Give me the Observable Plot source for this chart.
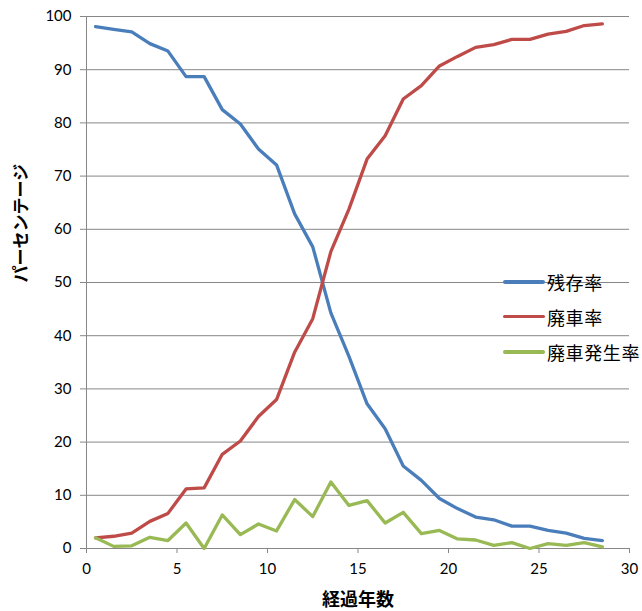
<!DOCTYPE html>
<html><head><meta charset="utf-8">
<script src="https://cdn.jsdelivr.net/npm/d3@7"></script>
<script src="https://cdn.jsdelivr.net/npm/@observablehq/plot@0.6"></script>
<style>
body{margin:0;background:#fff}
#wrap{position:relative;width:642px;height:611px;overflow:hidden}
#legend{position:absolute;left:503px;top:0;font-family:"Noto Sans CJK JP",sans-serif;font-size:18px;color:#000}
.item{position:absolute;left:0;display:flex;align-items:center;white-space:nowrap;height:24px}
.sw{width:42px;height:3.5px;border-radius:2px;margin-right:2px}
</style></head><body><div id="wrap"></div>
<script>
const years = [0.5,1.5,2.5,3.5,4.5,5.5,6.5,7.5,8.5,9.5,10.5,11.5,12.5,13.5,14.5,15.5,16.5,17.5,18.5,19.5,20.5,21.5,22.5,23.5,24.5,25.5,26.5,27.5,28.5];
const survival = [98.1,97.6,97.1,94.9,93.5,88.7,88.7,82.5,79.8,75.1,72.1,62.9,56.7,44.3,36.1,27.2,22.5,15.5,12.8,9.4,7.5,5.9,5.4,4.2,4.2,3.4,2.9,1.9,1.5];
const scrapped = [2.0,2.3,2.9,5.1,6.6,11.2,11.4,17.7,20.2,24.8,28.0,36.9,43.2,55.8,63.8,73.2,77.6,84.5,87.0,90.7,92.5,94.2,94.7,95.7,95.7,96.7,97.2,98.3,98.6];
const scrapRate = [2.0,0.4,0.5,2.1,1.5,4.8,0.0,6.3,2.6,4.6,3.3,9.2,6.0,12.5,8.1,9.0,4.8,6.8,2.8,3.4,1.8,1.6,0.6,1.1,0.0,0.9,0.6,1.1,0.3];
const seriesNames = ["残存率","廃車率","廃車発生率"];
const seriesColors = ["#4A7EBB","#BE4B48","#98B954"];
const xTicks = [0,5,10,15,20,25,30];
const yTicks = [0,10,20,30,40,50,60,70,80,90,100];
const xTitle = "経過年数";
const yTitle = "パーセンテージ";

const seriesValues = [survival, scrapped, scrapRate];
const data = seriesNames.flatMap((s, k) => years.map((x, i) => ({x, y: seriesValues[k][i], s})));
const grey = "#878787";
const font = "Lato, 'Noto Sans CJK JP', sans-serif";

const chart = Plot.plot({
  width: 642, height: 611,
  marginLeft: 86, marginRight: 13, marginTop: 16, marginBottom: 63,
  style: {fontFamily: font, fontSize: "15px", color: "#000", background: "#fff"},
  x: {domain: [0, 30]},
  y: {domain: [0, 100]},
  color: {domain: seriesNames, range: seriesColors},
  marks: [
    Plot.gridY(yTicks, {stroke: grey, strokeOpacity: 1, strokeWidth: 1}),
    Plot.ruleX([0], {stroke: grey, strokeWidth: 1}),
    Plot.axisY(yTicks, {tickSize: 6, tickPadding: 9, stroke: grey, label: null, fontSize: 15}),
    Plot.axisX(xTicks, {tickSize: 5, tickPadding: 10, stroke: grey, label: null, fontSize: 15}),
    Plot.line(data, {x: "x", y: "y", z: "s", stroke: "s", strokeWidth: 3.3, strokeLinejoin: "round", strokeLinecap: "round"}),
    Plot.text([yTitle], {frameAnchor: "left", dx: -65, rotate: -90, fontSize: 17, fontWeight: "bold", fontFamily: "'Noto Sans CJK JP', sans-serif"}),
    Plot.text([xTitle], {frameAnchor: "bottom", lineAnchor: "middle", dy: 52, fontSize: 18, fontWeight: "bold", fontFamily: "'Noto Sans CJK JP', sans-serif", letterSpacing: "1px"})
  ]
});
const wrap = document.getElementById("wrap");
wrap.appendChild(chart);

const legend = document.createElement("div");
legend.id = "legend";
const rowY = [282, 316.5, 352];
seriesNames.forEach((n, i) => {
  const it = document.createElement("div");
  it.className = "item";
  it.style.top = (rowY[i] - 12) + "px";
  const sw = document.createElement("div");
  sw.className = "sw";
  sw.style.background = seriesColors[i];
  const t = document.createElement("span");
  t.textContent = n;
  t.style.letterSpacing = "0.6px";
  it.appendChild(sw); it.appendChild(t);
  legend.appendChild(it);
});
wrap.appendChild(legend);
</script></body></html>
